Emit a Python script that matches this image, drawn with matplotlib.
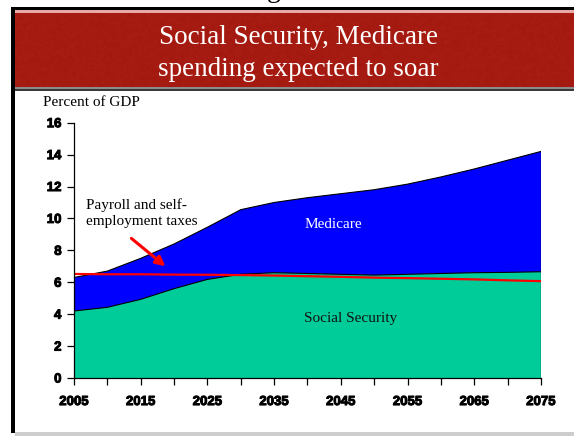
import numpy as np
import matplotlib
matplotlib.use("Agg")
import matplotlib.pyplot as plt
from matplotlib.patches import Rectangle
import matplotlib.patheffects as pe

# Projected spending and revenue, percent of GDP
years = [2005, 2010, 2015, 2020, 2025, 2030, 2035, 2040,
         2045, 2050, 2055, 2060, 2065, 2070, 2075]
social_security = [4.2, 4.43, 4.93, 5.6, 6.18, 6.5, 6.6, 6.55,
                   6.5, 6.45, 6.5, 6.55, 6.6, 6.62, 6.66]
ss_plus_medicare = [6.3, 6.7, 7.5, 8.4, 9.45, 10.55, 11.0, 11.3,
                    11.55, 11.8, 12.15, 12.6, 13.1, 13.65, 14.2]
payroll_taxes = [6.52, 6.5, 6.5, 6.48, 6.47, 6.45, 6.42, 6.38,
                 6.34, 6.29, 6.26, 6.22, 6.18, 6.12, 6.07]

title_lines = ["Social Security, Medicare", "spending expected to soar"]
y_ticks = [0, 2, 4, 6, 8, 10, 12, 14, 16]
x_ticks = [2005, 2015, 2025, 2035, 2045, 2055, 2065, 2075]

W, H = 574, 436
fig = plt.figure(figsize=(W / 100, H / 100), dpi=100)
fig.patch.set_facecolor("white")

# Slide frame and banner drawn in pixel coordinates
bg = fig.add_axes([0, 0, 1, 1], zorder=0)
bg.set_xlim(0, W)
bg.set_ylim(H, 0)
bg.axis("off")

bg.add_patch(Rectangle((11, 7), W - 11, 3.5, color="black", lw=0))
bg.add_patch(Rectangle((11, 7), 3.5, 426, color="black", lw=0))
bg.add_patch(Rectangle((14.5, 10.5), W - 14.5, 2.5, color="#E9A9A4", lw=0))
bg.add_patch(Rectangle((14.5, 13), W - 14.5, 74, color="#A8160C", lw=0))
# faint texture on the banner
rng = np.random.default_rng(3)
tex = rng.normal(0, 1, (37, 280))
bg.imshow(tex, extent=(14.5, W, 87, 13), cmap="gray", alpha=0.05,
          aspect="auto", interpolation="bilinear", zorder=1)
bg.add_patch(Rectangle((14.5, 87), W - 14.5, 2.5, color="#8C8C8C", lw=0, zorder=2))
bg.add_patch(Rectangle((14.5, 89.5), W - 14.5, 2, color="#3A3A3A", lw=0, zorder=2))
bg.add_patch(Rectangle((14.5, 432), W - 14.5, 4, color="#CDCDCD", lw=0))

serif = "Liberation Serif"
fig.text(274 / W, 1 + 3 / H, "g", family=serif, fontsize=20,
         ha="center", va="baseline", color="black")
fig.text(298.5 / W, 1 - 38 / H, title_lines[0], family=serif, fontsize=19.5,
         ha="center", va="center", color="white")
fig.text(298.5 / W, 1 - 70 / H, title_lines[1], family=serif, fontsize=19.5,
         ha="center", va="center", color="white")

# Chart area
ax = fig.add_axes([74 / W, 58 / H, (541 - 74) / W, (378 - 122.7) / H], zorder=2)
ax.set_facecolor("none")

green = "#00CC99"
blue = "#0000FF"
ax.fill_between(years, 0, social_security, facecolor=green, edgecolor="none")
ax.fill_between(years, social_security, ss_plus_medicare, facecolor=blue,
                edgecolor="none")
ax.plot(years, social_security, color="black", lw=0.8)
ax.plot(years, ss_plus_medicare, color="black", lw=0.8)
ax.plot([years[-1], years[-1]], [0, ss_plus_medicare[-1]], color="black", lw=0.9)
ax.plot(years, payroll_taxes, color="#FF0000", lw=1.6)

ax.set_xlim(2005, 2075)
ax.set_ylim(0, 16)
for s in ["top", "right"]:
    ax.spines[s].set_visible(False)
for s in ["left", "bottom"]:
    ax.spines[s].set_linewidth(0.9)

heavy = [pe.withStroke(linewidth=0.7, foreground="black")]
tick_font = dict(family="Liberation Sans", weight="bold", size=9.5)
ax.set_yticks(y_ticks)
ax.set_yticklabels([str(v) for v in y_ticks], **tick_font)
ax.set_xticks(x_ticks)
ax.set_xticklabels([str(v) for v in x_ticks], **tick_font)
for lab in ax.get_xticklabels() + ax.get_yticklabels():
    lab.set_path_effects(heavy)
ax.set_xticks(list(range(2005, 2076, 5)), minor=True)
ax.tick_params(axis="both", which="both", direction="out", length=5,
               width=0.9, color="black")
ax.tick_params(axis="y", pad=4)
ax.tick_params(axis="x", pad=8)

ax.text(2046.4, 3.76, "Social Security", family=serif, fontsize=11,
        ha="center", va="center", color="#111111")
ax.text(2043.9, 9.6, "Medicare", family=serif, fontsize=11,
        ha="center", va="center", color="white")
ax.text(2006.8, 10.35, "Payroll and self-\nemployment taxes", family=serif,
        fontsize=11, ha="left", va="center", color="black", linespacing=1.3)
ax.annotate("", xy=(2018.7, 7.0), xytext=(2013.6, 8.75),
            arrowprops=dict(arrowstyle="-|>", color="#FF0000", lw=2.2,
                            mutation_scale=14, shrinkA=0, shrinkB=0))

fig.text(43 / W, 1 - 102 / H, "Percent of GDP", family=serif, fontsize=11,
         ha="left", va="center", color="black")

fig.savefig("out.png", dpi=100)
